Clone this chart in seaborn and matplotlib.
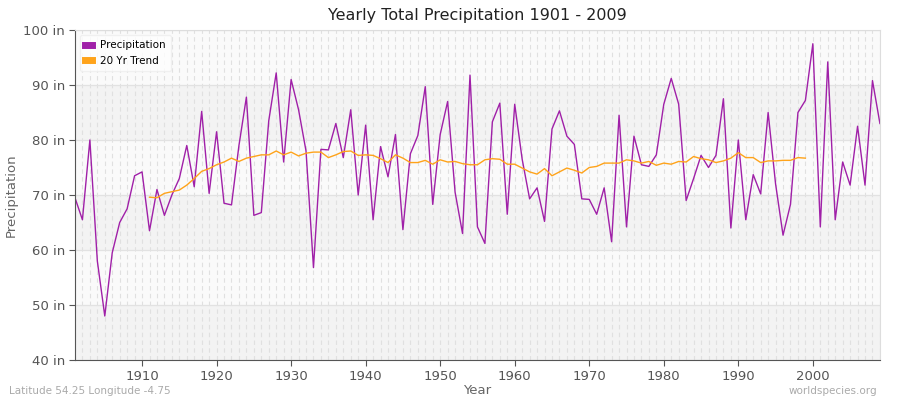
import matplotlib
matplotlib.use("Agg")
import matplotlib.pyplot as plt
import seaborn as sns
import pandas as pd
import numpy as np

years = list(range(1901, 2010))
precip = [69.5,65.5,80,58,48,59.5,65,67.5,73.5,74.2,
63.5,71,66.3,70,73,79,71.5,85.2,70.3,81.5,
68.5,68.2,79,87.8,66.3,66.8,83.5,92.2,76,91,
85.5,78,56.8,78.3,78.2,83,76.8,85.5,70,82.7,
65.5,78.8,73.3,81,63.7,77.5,80.8,89.7,68.3,81,
87,70.5,63,91.8,64.2,61.2,83.3,86.7,66.5,86.5,
76.5,69.3,71.3,65.2,82,85.3,80.7,79.2,69.3,69.2,
66.5,71.3,61.5,84.5,64.2,80.7,75.5,75.2,77.3,86.5,
91.2,86.5,69,73,77.2,75,77.2,87.5,64,80,
65.5,73.7,70.2,85,72,62.7,68.3,85,87.2,97.5,
64.2,94.2,65.5,76,71.8,82.5,71.8,90.8,83]
trend_years = list(range(1911, 2000))
trend = [69.6,69.5,70.3,70.6,70.9,71.8,73,74.3,74.8,75.5,
76,76.7,76.1,76.7,77,77.3,77.3,78,77.3,77.8,
77.1,77.6,77.8,77.8,76.8,77.3,77.9,78,77.2,77.3,
77.2,76.6,75.9,77.3,76.7,75.9,75.9,76.3,75.6,76.4,
76.0,76.1,75.7,75.5,75.5,76.4,76.6,76.5,75.6,75.6,
74.9,74.2,73.8,74.8,73.5,74.2,74.9,74.5,74.0,75.0,
75.2,75.8,75.8,75.8,76.4,76.2,75.8,76.1,75.4,75.8,
75.6,76.1,76.0,77.0,76.6,76.4,75.9,76.2,76.7,77.7,
76.8,76.8,75.9,76.2,76.2,76.3,76.3,76.8,76.7]
yticks = [40, 50, 60, 70, 80, 90, 100]
xticks = [1910, 1920, 1930, 1940, 1950, 1960, 1970, 1980, 1990, 2000]

df = pd.DataFrame({"Year": years, "Precipitation": precip})
dt = pd.DataFrame({"Year": trend_years, "Trend": trend})

fig = plt.figure(figsize=(9, 4), dpi=100)
ax = fig.add_axes([0.0833, 0.1, 0.8944, 0.825])
ax.set_facecolor("#fafafa")
for i, lo in enumerate(range(40, 100, 10)):
    if i % 2 == 0:
        ax.axhspan(lo, lo + 10, color="#f3f3f3", zorder=0, lw=0)
for y in years:
    ax.axvline(y, color="#e0e0e0", lw=0.8, ls=(0, (4, 3)), zorder=0.5)
for y in yticks:
    ax.axhline(y, color="#e2e2e2", lw=0.9, zorder=0.6)

sns.lineplot(data=df, x="Year", y="Precipitation", ax=ax, color="#a020a8", lw=1.0, label="Precipitation")
sns.lineplot(data=dt, x="Year", y="Trend", ax=ax, color="#ffa31a", lw=1.0, label="20 Yr Trend")

ax.set_xlim(1901, 2009)
ax.set_ylim(40, 100)
ax.set_yticks(yticks)
ax.set_yticklabels([f"{v} in" for v in yticks])
ax.set_xticks(xticks)
ax.tick_params(colors="#555555", labelsize=9.5, length=4, pad=3)
for s in ["top", "right"]:
    ax.spines[s].set_color("#dddddd")
for s in ["left", "bottom"]:
    ax.spines[s].set_color("#555555")
ax.set_xlabel("Year", color="#666666", fontsize=9.5, labelpad=1)
ax.set_ylabel("Precipitation", color="#666666", fontsize=9.5, labelpad=4)
ax.set_title("Yearly Total Precipitation 1901 - 2009", fontsize=11.5, color="#222222", pad=7)

leg = ax.legend(loc="upper left", fontsize=7.5, frameon=True, handlelength=0.6, handletextpad=0.8, borderpad=0.5)
leg.get_frame().set_edgecolor("#eeeeee")
for h in leg.legend_handles:
    h.set_linewidth(5)

fig.text(0.01, 0.015, "Latitude 54.25 Longitude -4.75", fontsize=7.5, color="#aaaaaa")
fig.text(0.975, 0.015, "worldspecies.org", fontsize=7.5, color="#aaaaaa", ha="right")
fig.savefig("out.png", dpi=100)
